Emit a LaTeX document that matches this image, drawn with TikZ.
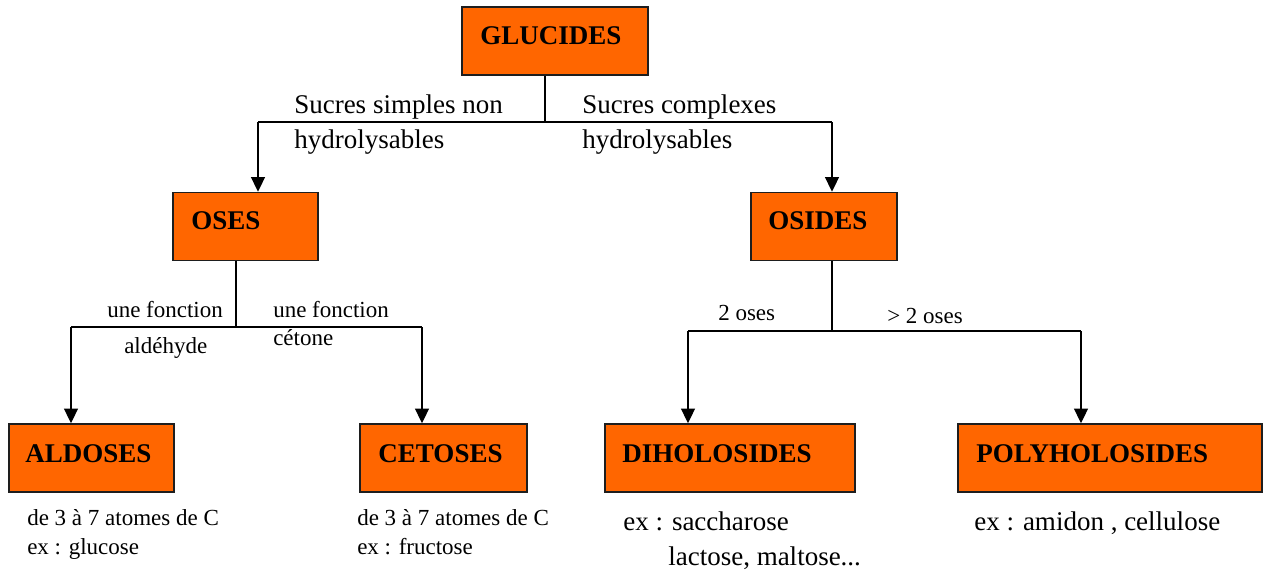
\documentclass[tikz,border=0pt]{standalone}
\usepackage{fontspec}
\setmainfont{Liberation Serif}
\usetikzlibrary{arrows.meta}
\definecolor{boxorange}{RGB}{255,102,0}
\definecolor{edgegray}{RGB}{30,30,30}
\begin{document}
\begin{tikzpicture}[x=0.75pt,y=-0.75pt,
  box/.style={draw=edgegray, line width=1.2pt, fill=boxorange, minimum height=51pt, inner sep=0pt},
  title/.style={anchor=base west, inner sep=0pt, font=\fontsize{20.25}{24}\selectfont\bfseries},
  big/.style={anchor=base west, inner sep=0pt, font=\fontsize{20.25}{24}\selectfont},
  small/.style={anchor=base west, inner sep=0pt, font=\fontsize{17.25}{20}\selectfont},
  conn/.style={draw=black, line width=1pt},
  arr/.style={conn, -{Triangle[length=11pt,width=10.5pt]}}]
\useasboundingbox (0,0) rectangle (1264,572);

% boxes
\node[box, minimum width=139.5pt] (gl) at (555,41) {};
\node[box, minimum width=108.75pt] (oses) at (245.5,226.5) {};
\node[box, minimum width=109.5pt] (osides) at (824,226.5) {};
\node[box, minimum width=123.75pt] (aldo) at (91.5,458) {};
\node[box, minimum width=125.25pt] (ceto) at (443.5,458) {};
\node[box, minimum width=187.5pt] (diho) at (730,458) {};
\node[box, minimum width=228pt] (poly) at (1110,458) {};

% titles
\node[title] (glt) at ([shift={(19,38)}]gl.north west) {GLUCIDES};
\node[title] (osest) at ([shift={(19,38)}]oses.north west) {OSES};
\node[title] (osidest) at ([shift={(18,38)}]osides.north west) {OSIDES};
\node[title] (aldot) at ([shift={(17,39)}]aldo.north west) {ALDOSES};
\node[title] (cetot) at ([shift={(19,39)}]ceto.north west) {CETOSES};
\node[title] (dihot) at ([shift={(18,39)}]diho.north west) {DIHOLOSIDES};
\node[title] (polyt) at ([shift={(19,39)}]poly.north west) {POLYHOLOSIDES};

% junction coordinates
\coordinate (j1) at (545,122);
\coordinate (j1l) at (258,122);
\coordinate (j1r) at (832,122);
\coordinate (j2) at (236,327);
\coordinate (j2l) at (71,327);
\coordinate (j2r) at (422,327);
\coordinate (j3) at (832,331);
\coordinate (j3l) at (688,331);
\coordinate (j3r) at (1081,331);

% connectors
\draw[conn] (gl.south -| j1) -- (j1);
\draw[conn] (j1l) -- (j1r);
\draw[arr] (j1l) -- (j1l |- oses.north);
\draw[arr] (j1r) -- (j1r |- osides.north);

\draw[conn] (oses.south -| j2) -- (j2);
\draw[conn] (j2l) -- (j2r);
\draw[arr] (j2l) -- (j2l |- aldo.north);
\draw[arr] (j2r) -- (j2r |- ceto.north);

\draw[conn] (osides.south -| j3) -- (j3);
\draw[conn] (j3l) -- (j3r);
\draw[arr] (j3l) -- (j3l |- diho.north);
\draw[arr] (j3r) -- (j3r |- poly.north);

% branch labels
\node[big] (l1a) at (294,113) {Sucres simples non};
\node[big] (l1b) at (294,148) {hydrolysables};
\node[big] (l1c) at (582,113) {Sucres complexes};
\node[big] (l1d) at (582,148) {hydrolysables};

\node[small] (l2a) at (107,317) {une fonction};
\node[small] (l2b) at (124,353) {aldéhyde};
\node[small] (l2c) at (273,317) {une fonction};
\node[small] (l2d) at (273,345) {cétone};

\node[small] (l3a) at (718,320) {2 oses};
\node[small] (l3b) at (887,323) {> 2 oses};

% descriptions
\node[small] (d1a) at (27,525) {de 3 à 7 atomes de C};
\node[small] (d1b) at (27,554) {ex : glucose};
\node[small] (d2a) at (357,525) {de 3 à 7 atomes de C};
\node[small] (d2b) at (357,554) {ex : fructose};
\node[big] (d3a) at (623,530) {ex : saccharose};
\node[big] (d3b) at (668,565) {lactose, maltose...};
\node[big] (d4a) at (974,530) {ex : amidon , cellulose};
\end{tikzpicture}
\end{document}
